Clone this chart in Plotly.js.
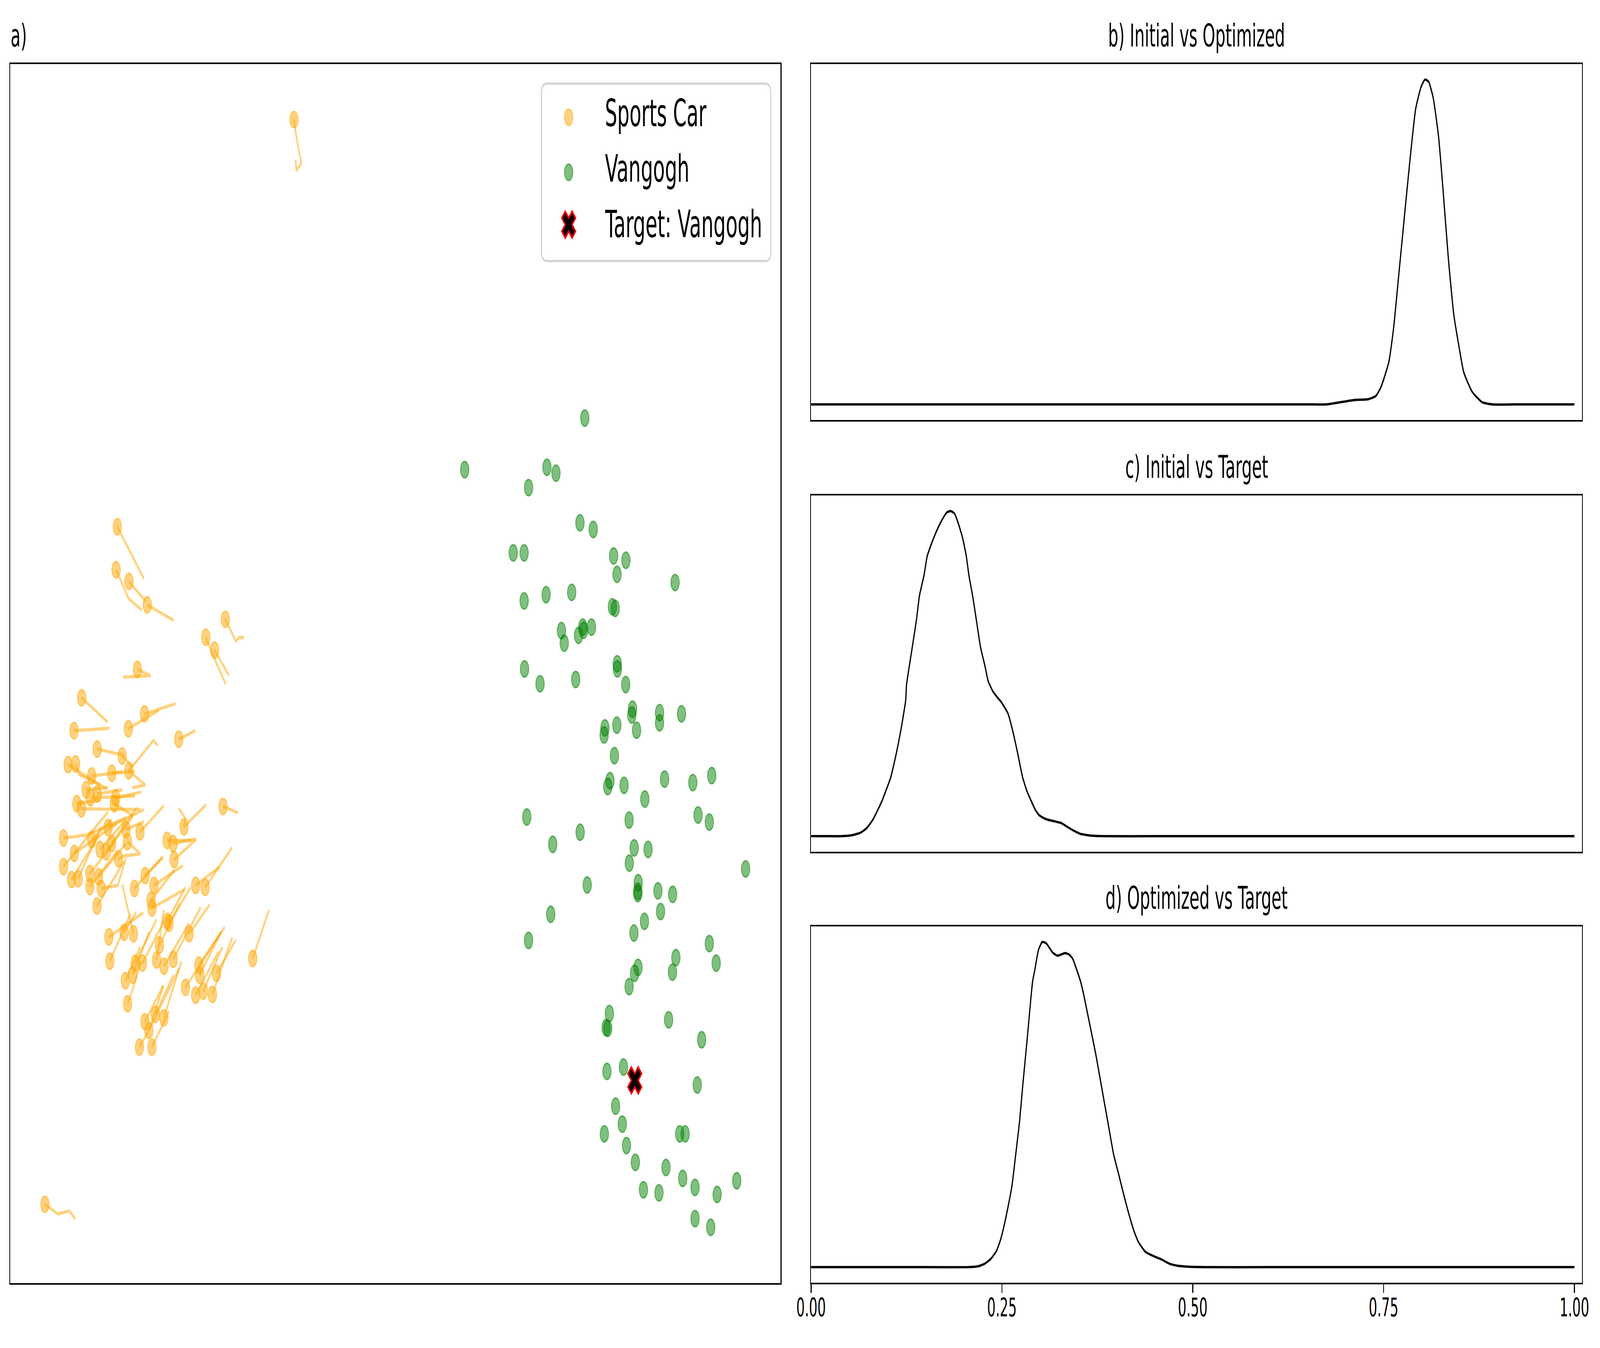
<!DOCTYPE html>
<html>
<head>
<meta charset="utf-8">
<script src="https://cdn.plot.ly/plotly-3.0.1.min.js"></script>
<style>html,body{margin:0;padding:0;background:#fff;overflow:hidden;}#wrap{position:absolute;left:0;top:0;width:7940px;height:3450px;transform-origin:0 0;}#chart{width:7940px;height:3450px;}</style>
</head>
<body>
<div id="wrap"><div id="chart"></div></div>
<script>
// ---------------- DATA ----------------
// Panel a: embedding coordinates (arbitrary units, y grows downward)
const carX = [582,576,640,731,1118,1021,1065,682,405,367,717,637,887,482,606,639,338,375,455,555,427,482,449,574,568,381,404,315,369,315,355,388,446,489,446,502,481,588,632,695,455,496,527,554,536,625,1107,913,829,859,864,667,720,764,750,754,971,1018,540,616,662,545,839,830,791,938,777,814,860,707,671,658,622,633,719,771,813,739,692,754,920,987,991,971,1009,1054,1074,1254,1459,223];
const carY = [1348,1458,1488,1548,1585,1631,1664,1713,1786,1870,1827,1865,1892,1917,1935,1973,1957,1955,1986,1979,2021,2032,2042,2042,2057,2057,2070,2145,2184,2218,2251,2249,2236,2244,2269,2274,2319,2198,2154,2129,2149,2174,2180,2159,2118,2123,2064,2116,2151,2159,2200,2274,2241,2266,2304,2324,2266,2271,2398,2386,2390,2460,2363,2358,2419,2390,2457,2473,2455,2465,2465,2496,2510,2569,2615,2596,2605,2637,2680,2680,2527,2470,2496,2547,2537,2545,2491,2453,306,3082];
// Optimisation trails (one polyline per sports-car point)
const trailX = [
 [582,714],[576,638,705],[640,723],[731,862],[1118,1170,1188,1210],[1021,1076,1121],[1065,1136],[682,748,612],
 [405,534],[367,543],[717,871],[637,788],[887,969],[482,616],[606,660],[783,761,639,721,656],
 [338,500],[375,392,530],[455,607],[555,670],[427,536],[482,607],[449,670],[574,701],
 [568,661],[381,500],[404,696],[315,429,625],[369,580],[315,536],[355,491],[388,500],
 [446,571],[489,625],[446,580],[502,585,625],[481,616],[588,625],[632,696,625],[695,813],
 [455,554],[496,625],[527,661],[554,679],[536,714],[625,714],[1107,1181],[887,920,913,1024],
 [829,951],[859,971],[864,973],[667,808],[720,808],[764,908],[750,866],[754,915],
 [971,1089],[1018,1152],[540,711],[616,676],[662,607],[545,647],[839,946],[830,920],
 [791,893],[938,1040],[777,813],[814,938],[860,996],[707,813],[671,777],[658,741],
 [622,696],[633,660,700],[719,811],[771,861],[813,900],[739,890],[692,740,811],[754,790,839],
 [920,1100],[987,1115],[991,1098],[971,1085],[1009,1103],[1054,1152],[1074,1170],[1254,1335],
 [1459,1469,1495,1471,1467],[223,287,344,373]
];
const trailY = [
 [1348,1481],[1458,1532,1562],[1488,1539],[1548,1588],[1585,1641,1631,1632],[1631,1700,1751],[1664,1729],[1713,1729,1733],
 [1786,1848],[1870,1864],[1827,1801],[1865,1818],[1892,1870],[1917,1933],[1935,1962],[1908,1895,1973,2009,2016],
 [1957,2010],[1955,1982,2018],[1986,1975],[1979,1974],[2021,2016],[2032,2021],[2042,2037],[2042,2027],
 [2057,2088],[2057,2047],[2070,2072],[2145,2137,2093],[2184,2108],[2218,2078],[2251,2139],[2249,2118],
 [2236,2154],[2244,2159],[2269,2180],[2274,2266,2195],[2319,2205],[2198,2188],[2154,2185,2190],[2129,2062],
 [2149,2098],[2174,2098],[2180,2088],[2159,2067],[2118,2072],[2123,2103],[2064,2080],[2069,2095,2116,2059],
 [2151,2151],[2159,2147],[2200,2149],[2274,2192],[2241,2195],[2266,2215],[2304,2226],[2324,2277],
 [2266,2219],[2271,2169],[2398,2336],[2386,2335],[2390,2264],[2460,2339],[2363,2271],[2358,2271],
 [2419,2312],[2390,2316],[2457,2328],[2473,2363],[2455,2322],[2465,2358],[2465,2353],[2496,2384],
 [2510,2424],[2569,2530,2460],[2615,2522],[2596,2495],[2605,2461],[2637,2478],[2680,2636,2522],[2680,2640,2588],
 [2527,2385],[2470,2373],[2496,2384],[2547,2435],[2537,2424],[2545,2399],[2491,2406],[2453,2329],
 [306,344,418,437,408],[3082,3107,3099,3119]
];
const vanX = [2306,2902,2714,2759,2623,2878,2944,2547,2601,3045,3106,3062,3350,2601,2710,2837,3039,3053,2786,2800,2892,2896,2871,2935,2603,2680,2857,3063,3064,3105,3139,3135,3273,3273,3382,3002,2998,3061,3159,3049,3027,3016,3097,3298,3438,3532,3200,2614,2743,2879,3122,3464,3520,3147,3216,3123,3700,2914,3167,3165,3165,3265,3338,3278,2733,3198,3146,2623,3520,3554,3354,3337,3166,3149,3122,3024,3008,3016,3318,3482,3012,3094,3460,3055,3088,2999,3373,3400,3109,3153,3305,3388,3449,3656,3193,3270,3559,3449,3527];
const vanY = [1202,1070,1196,1211,1248,1338,1355,1415,1415,1423,1434,1470,1491,1538,1522,1516,1553,1557,1614,1646,1605,1613,1626,1605,1712,1750,1739,1699,1712,1752,1815,1830,1824,1850,1827,1863,1881,1856,1869,1934,1998,2013,2010,1994,2003,1985,2045,2091,2161,2130,2099,2086,2104,2170,2174,2209,2224,2265,2259,2281,2287,2280,2289,2333,2340,2358,2388,2407,2415,2465,2451,2488,2476,2491,2525,2594,2630,2632,2610,2661,2742,2731,2777,2831,2877,2902,2902,2902,2932,2975,2988,3016,3039,3022,3045,3053,3057,3119,3141];
const targetX = [3150];
const targetY = [2765];

// Panels b-d: density curves (x in [0,1], density scaled to its peak)
const bX = [0,0.2,0.4,0.6,0.66,0.675,0.689,0.712,0.730,0.740,0.747,0.757,0.763,0.770,0.777,0.784,0.792,0.799,0.804,0.809,0.815,0.822,0.828,0.835,0.842,0.849,0.855,0.866,0.879,0.893,0.92,0.96,1.0];
const bY = [0,0,0,0,0,0,0.005,0.0137,0.016,0.0265,0.056,0.132,0.233,0.402,0.572,0.74,0.91,0.977,1.0,0.994,0.944,0.825,0.657,0.445,0.276,0.175,0.099,0.039,0.007,0,0,0,0];
const cX = [0,0.02,0.040,0.054,0.065,0.073,0.081,0.086,0.093,0.098,0.104,0.108,0.113,0.118,0.124,0.125,0.132,0.138,0.142,0.148,0.152,0.157,0.163,0.167,0.173,0.178,0.183,0.188,0.192,0.198,0.203,0.207,0.212,0.217,0.222,0.228,0.232,0.238,0.244,0.248,0.253,0.258,0.263,0.270,0.277,0.283,0.289,0.294,0.299,0.307,0.320,0.328,0.336,0.344,0.353,0.367,0.383,0.45,0.6,0.8,1.0];
const cY = [0,0,0,0.003,0.011,0.025,0.051,0.074,0.109,0.140,0.178,0.216,0.270,0.331,0.419,0.465,0.573,0.665,0.740,0.803,0.860,0.895,0.931,0.952,0.979,0.996,1.0,0.992,0.968,0.922,0.866,0.799,0.734,0.657,0.581,0.521,0.477,0.446,0.427,0.416,0.398,0.377,0.335,0.262,0.182,0.137,0.105,0.080,0.064,0.053,0.045,0.040,0.028,0.017,0.007,0.0015,0,0,0,0,0];
const dX = [0,0.05,0.10,0.15,0.206,0.2196,0.2278,0.2357,0.2431,0.2479,0.2521,0.2574,0.2632,0.2677,0.2730,0.2777,0.2830,0.2876,0.2902,0.2930,0.2978,0.3027,0.3081,0.3166,0.3229,0.3329,0.3383,0.3428,0.3477,0.3534,0.3572,0.3626,0.3692,0.3734,0.3827,0.3882,0.3964,0.4030,0.4099,0.4178,0.4233,0.4287,0.4376,0.4448,0.4596,0.4691,0.4786,0.4974,0.5164,0.6,0.8,1.0];
const dY = [0,0,0,0,0,0.003,0.011,0.026,0.051,0.082,0.120,0.178,0.251,0.339,0.446,0.569,0.699,0.818,0.879,0.913,0.975,1.0,0.996,0.967,0.958,0.966,0.961,0.948,0.917,0.875,0.837,0.775,0.699,0.649,0.526,0.454,0.346,0.285,0.220,0.151,0.109,0.078,0.048,0.038,0.023,0.011,0.005,0.001,0,0,0,0];
const tickVals = [0,0.25,0.5,0.75,1.0];
const tickText = ['0.00','0.25','0.50','0.75','1.00'];
const seriesNames = ['Sports Car','Vangogh','Target: Vangogh'];
const panelTitles = ['a)','b) Initial vs Optimized','c) Initial vs Target','d) Optimized vs Target'];

// ---------------- STYLE / LAYOUT ----------------
const W = 7940, H = 3450;
const FONT = 'DejaVu Sans';
const fx = v => v / W;
const fy = v => 1 - v / H;
const ORANGE_A = 'rgba(255,165,0,0.5)';
const GREEN_A = 'rgba(0,128,0,0.5)';
const LW = 4.4;

const traces = [];
for (let i = 0; i < trailX.length; i++) {
  traces.push({x: trailX[i], y: trailY[i], type: 'scatter', mode: 'lines',
    line: {color: ORANGE_A, width: 8.3}, xaxis: 'x', yaxis: 'y', showlegend: false, hoverinfo: 'skip'});
}
const carMarker = {size: 42, color: ORANGE_A, line: {color: ORANGE_A, width: 4}};
const vanMarker = {size: 42, color: GREEN_A, line: {color: GREEN_A, width: 4}};
const tgtMarker = {symbol: 'x', size: 60, color: 'black', line: {color: 'red', width: 6}};
traces.push({x: carX, y: carY, type: 'scatter', mode: 'markers', name: seriesNames[0], marker: carMarker, xaxis: 'x', yaxis: 'y', showlegend: false});
traces.push({x: vanX, y: vanY, type: 'scatter', mode: 'markers', name: seriesNames[1], marker: vanMarker, xaxis: 'x', yaxis: 'y', showlegend: false});
traces.push({x: targetX, y: targetY, type: 'scatter', mode: 'markers', name: seriesNames[2], marker: tgtMarker, xaxis: 'x', yaxis: 'y', showlegend: false});

const kde = [[bX, bY, 'x2', 'y2'], [cX, cY, 'x3', 'y3'], [dX, dY, 'x4', 'y4']];
kde.forEach(k => traces.push({x: k[0], y: k[1], type: 'scatter', mode: 'lines',
  line: {color: 'black', width: 6, shape: 'spline', smoothing: 0.5}, xaxis: k[2], yaxis: k[3], showlegend: false}));

// custom legend (matplotlib-sized glyphs) in a small overlay axis measured in pixels
const LEG = {x0: 2687, x1: 3825, y0: 214, y1: 668, r: 26, mx: 2822, tx: 3000,
             my: [300, 441, 575], ty: [290, 432, 574], ax0: 2600, ax1: 3880, ay0: 180, ay1: 720};
[carMarker, vanMarker, tgtMarker].forEach((m, i) => traces.push({
  x: [LEG.mx], y: [LEG.my[i]], type: 'scatter', mode: 'markers', marker: m, cliponaxis: false,
  xaxis: 'x5', yaxis: 'y5', showlegend: false, hoverinfo: 'skip'}));

const frame = {showline: true, mirror: true, linecolor: 'black', linewidth: LW,
  showgrid: false, zeroline: false, ticks: '', showticklabels: false, fixedrange: true};
const rightX = [4025 / W, 7851 / W];
const layout = {
  width: W, height: H, margin: {l: 0, r: 0, t: 0, b: 0, pad: 0},
  paper_bgcolor: 'white', plot_bgcolor: 'rgba(0,0,0,0)', showlegend: false,
  font: {family: FONT, color: 'black', size: 66},
  xaxis: Object.assign({}, frame, {domain: [51 / W, 3874 / W], range: [51, 3874], anchor: 'y'}),
  yaxis: Object.assign({}, frame, {domain: [fy(3284), fy(164)], range: [3284, 164], anchor: 'x'}),
  xaxis2: Object.assign({}, frame, {domain: rightX, range: [0, 1.01], anchor: 'y2'}),
  yaxis2: Object.assign({}, frame, {domain: [fy(1075), fy(164)], range: [-0.048, 1.048], anchor: 'x2'}),
  xaxis3: Object.assign({}, frame, {domain: rightX, range: [0, 1.01], anchor: 'y3'}),
  yaxis3: Object.assign({}, frame, {domain: [fy(2180), fy(1268)], range: [-0.048, 1.048], anchor: 'x3'}),
  xaxis4: Object.assign({}, frame, {domain: rightX, range: [0, 1.01], anchor: 'y4',
    ticks: 'outside', ticklen: 22, tickwidth: LW, tickcolor: 'black', showticklabels: true, ticklabelstandoff: -20,
    tickmode: 'array', tickvals: tickVals, ticktext: tickText, tickfont: {family: FONT, size: 66, color: 'black'}}),
  yaxis4: Object.assign({}, frame, {domain: [fy(3283), fy(2371)], range: [-0.048, 1.048], anchor: 'x4'}),
  xaxis5: {domain: [LEG.ax0 / W, LEG.ax1 / W], range: [LEG.ax0, LEG.ax1], visible: false, anchor: 'y5', fixedrange: true},
  yaxis5: {domain: [fy(LEG.ay1), fy(LEG.ay0)], range: [LEG.ay1, LEG.ay0], visible: false, anchor: 'x5', fixedrange: true},
  shapes: [{
    type: 'path', xref: 'x5', yref: 'y5', layer: 'below',
    path: `M ${LEG.x0 + LEG.r},${LEG.y0} L ${LEG.x1 - LEG.r},${LEG.y0} Q ${LEG.x1},${LEG.y0} ${LEG.x1},${LEG.y0 + LEG.r} ` +
          `L ${LEG.x1},${LEG.y1 - LEG.r} Q ${LEG.x1},${LEG.y1} ${LEG.x1 - LEG.r},${LEG.y1} ` +
          `L ${LEG.x0 + LEG.r},${LEG.y1} Q ${LEG.x0},${LEG.y1} ${LEG.x0},${LEG.y1 - LEG.r} ` +
          `L ${LEG.x0},${LEG.y0 + LEG.r} Q ${LEG.x0},${LEG.y0} ${LEG.x0 + LEG.r},${LEG.y0} Z`,
    fillcolor: 'rgba(255,255,255,0.8)', line: {color: '#d6d6d6', width: 6}
  }],
  annotations: [
    {text: panelTitles[0], xref: 'paper', yref: 'paper', x: fx(51), y: fy(91), xanchor: 'left', yanchor: 'middle', showarrow: false, font: {family: FONT, size: 80, color: 'black'}},
    {text: panelTitles[1], xref: 'paper', yref: 'paper', x: fx(5938), y: fy(91), xanchor: 'center', yanchor: 'middle', showarrow: false, font: {family: FONT, size: 80, color: 'black'}},
    {text: panelTitles[2], xref: 'paper', yref: 'paper', x: fx(5938), y: fy(1195), xanchor: 'center', yanchor: 'middle', showarrow: false, font: {family: FONT, size: 80, color: 'black'}},
    {text: panelTitles[3], xref: 'paper', yref: 'paper', x: fx(5938), y: fy(2298), xanchor: 'center', yanchor: 'middle', showarrow: false, font: {family: FONT, size: 80, color: 'black'}}
  ].concat(seriesNames.map((s, i) => ({text: s, xref: 'x5', yref: 'y5', x: LEG.tx, y: LEG.ty[i],
    xanchor: 'left', yanchor: 'middle', showarrow: false, font: {family: FONT, size: 96, color: 'black'}})))
};

// The browser window may be narrower than the 7940x3450 figure; fit the whole figure into it.
Plotly.newPlot('chart', traces, layout, {staticPlot: true, displayModeBar: false}).then(() => {
  const sx = Math.min(1, window.innerWidth / W);
  const sy = Math.min(1, window.innerHeight / H);
  document.getElementById('wrap').style.transform = `scale(${sx}, ${sy})`;
});
</script>
</body>
</html>
